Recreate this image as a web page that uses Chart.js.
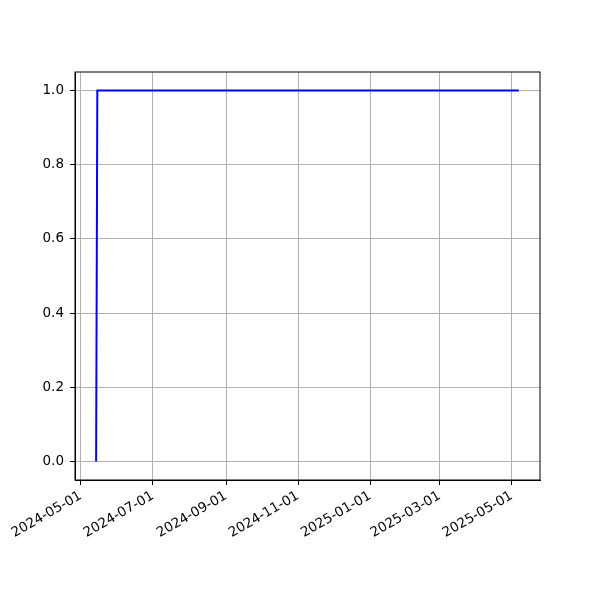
<!DOCTYPE html>
<html>
<head>
<meta charset="utf-8">
<script src="https://cdn.jsdelivr.net/npm/chart.js@4"></script>
<style>
  html, body { margin: 0; padding: 0; background: #fff; }
  #wrap { width: 600px; height: 600px; }
</style>
</head>
<body>
<div id="wrap"><canvas id="chart" width="600" height="600"></canvas></div>
<script>
// Datas e valores da série (degrau de 0 para 1)
const dates = ["2024-05-14", "2024-05-15", "2025-05-07"];
const values = [0, 1, 1];

// Rótulos dos ticks
const xTickDates = ["2024-05-01", "2024-07-01", "2024-09-01", "2024-11-01", "2025-01-01", "2025-03-01", "2025-05-01"];
const yTicks = [0, 0.2, 0.4, 0.6, 0.8, 1.0];

const toMs = (s) => {
  const [y, m, d] = s.split("-").map(Number);
  return Date.UTC(y, m - 1, d);
};
const fmtDate = (ms) => {
  const d = new Date(ms);
  const p = (n) => String(n).padStart(2, "0");
  return `${d.getUTCFullYear()}-${p(d.getUTCMonth() + 1)}-${p(d.getUTCDate())}`;
};

const points = dates.map((d, i) => ({ x: toMs(d), y: values[i] }));
const xs = points.map((p) => p.x);
const xMin = Math.min(...xs), xMax = Math.max(...xs);
const xPad = (xMax - xMin) * 0.05;

// Moldura preta em volta da área do gráfico
const frame = {
  id: "frame",
  afterDraw(chart) {
    const { ctx, chartArea: a } = chart;
    ctx.save();
    ctx.strokeStyle = "#000";
    ctx.lineWidth = 1;
    ctx.strokeRect(a.left, a.top, a.right - a.left, a.bottom - a.top);
    ctx.restore();
  },
};

const font = { family: "DejaVu Sans", size: 13.5 };

new Chart(document.getElementById("chart").getContext("2d"), {
  type: "line",
  data: {
    datasets: [
      {
        data: points,
        borderColor: "#0000ff",
        borderWidth: 2,
        pointRadius: 0,
        fill: false,
        tension: 0,
      },
    ],
  },
  options: {
    responsive: false,
    animation: false,
    layout: { padding: { top: 72, right: 60, left: 0, bottom: 0 } },
    plugins: { legend: { display: false }, tooltip: { enabled: false } },
    scales: {
      x: {
        type: "linear",
        min: xMin - xPad,
        max: xMax + xPad,
        afterBuildTicks: (s) => { s.ticks = xTickDates.map((d) => ({ value: toMs(d) })); },
        afterFit: (s) => { s.height = 120; },
        ticks: {
          autoSkip: false,
          minRotation: 30,
          maxRotation: 30,
          color: "#000",
          font,
          padding: 3,
          callback: (v) => fmtDate(v),
        },
        grid: { color: "#b0b0b0", lineWidth: 1, tickColor: "#000", tickLength: 5 },
        border: { color: "#000" },
      },
      y: {
        min: -0.05,
        max: 1.05,
        afterBuildTicks: (s) => { s.ticks = yTicks.map((v) => ({ value: v })); },
        afterFit: (s) => { s.width = 75; },
        ticks: {
          color: "#000",
          font,
          padding: 6,
          callback: (v) => v.toFixed(1),
        },
        grid: { color: "#b0b0b0", lineWidth: 1, tickColor: "#000", tickLength: 5 },
        border: { color: "#000" },
      },
    },
  },
  plugins: [frame],
});
</script>
</body>
</html>
